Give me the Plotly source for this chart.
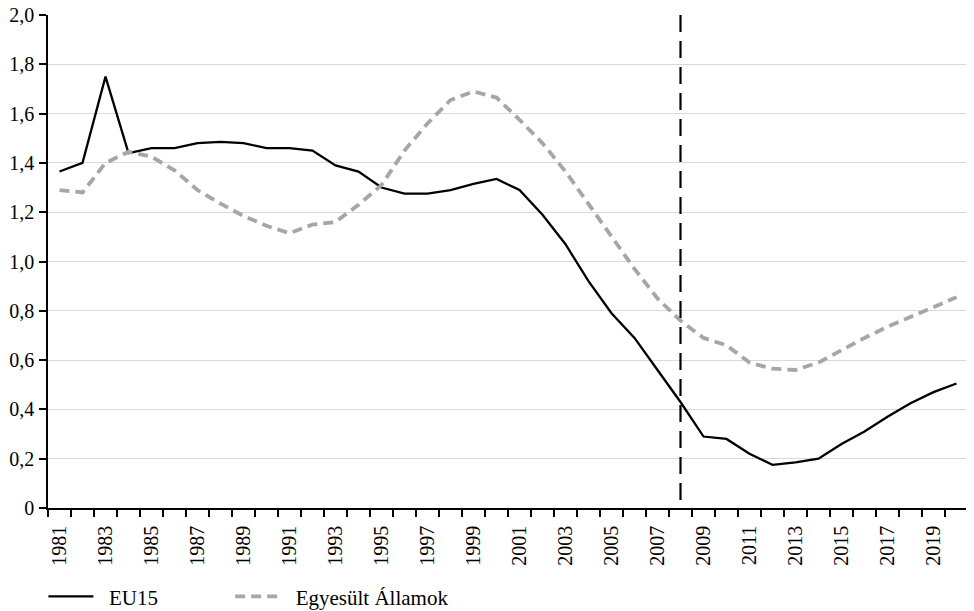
import plotly.graph_objects as go

years = list(range(1981, 2021))
eu15 = [1.365, 1.40, 1.75, 1.44, 1.46, 1.46, 1.48, 1.485, 1.48, 1.46,
        1.46, 1.45, 1.39, 1.365, 1.30, 1.275, 1.275, 1.29, 1.315, 1.335,
        1.29, 1.19, 1.07, 0.92, 0.79, 0.69, 0.56, 0.43, 0.29, 0.28,
        0.22, 0.175, 0.185, 0.20, 0.26, 0.31, 0.37, 0.425, 0.47, 0.505]
usa = [1.29, 1.28, 1.40, 1.445, 1.425, 1.37, 1.29, 1.235, 1.185, 1.145,
       1.115, 1.15, 1.16, 1.23, 1.31, 1.45, 1.56, 1.655, 1.69, 1.665,
       1.575, 1.48, 1.365, 1.235, 1.10, 0.97, 0.85, 0.76, 0.69, 0.66,
       0.59, 0.565, 0.56, 0.59, 0.64, 0.69, 0.735, 0.775, 0.815, 0.855]
y_ticks = [0, 0.2, 0.4, 0.6, 0.8, 1.0, 1.2, 1.4, 1.6, 1.8, 2.0]
y_ticktext = ["0", "0,2", "0,4", "0,6", "0,8", "1,0", "1,2", "1,4", "1,6", "1,8", "2,0"]
x_ticks = years[::2]
crisis_year = 2008

font = "Liberation Serif"
pad = "\u00a0\u00a0"

fig = go.Figure()
fig.add_trace(go.Scatter(x=years, y=eu15, mode="lines", name=pad + "EU15",
                         line=dict(color="black", width=2.3), legend="legend"))
fig.add_trace(go.Scatter(x=years, y=usa, mode="lines", name=pad + "Egyesült Államok",
                         line=dict(color="#a6a6a6", width=3.8, dash="10px,6px"),
                         legend="legend2"))

fig.add_shape(type="line", xref="x", yref="paper", x0=crisis_year, x1=crisis_year,
              y0=1, y1=0, line=dict(color="black", width=2.2, dash="17px,9px"))

legend_common = dict(orientation="h", y=-0.18, xanchor="left", yanchor="middle",
                     font=dict(family=font, size=21), itemwidth=45,
                     bgcolor="rgba(0,0,0,0)")

fig.update_layout(
    width=966, height=603,
    margin=dict(l=40, r=6, t=7, b=103, autoexpand=False),
    plot_bgcolor="white", paper_bgcolor="white",
    font=dict(family=font, size=20, color="black"),
    showlegend=True,
    legend=dict(x=-0.005, **legend_common),
    legend2=dict(x=0.198, **legend_common),
    xaxis=dict(range=[1980.5, 2020.5], tickmode="array", tickvals=x_ticks,
               ticktext=[str(y) for y in x_ticks], tickangle=-90, ticks="",
               showgrid=False, zeroline=False, showline=True, linecolor="black",
               linewidth=1.5, tickfont=dict(size=20), automargin=False,
               ticklabelstandoff=8, ticklabeloverflow="allow",
               minor=dict(tickmode="linear", tick0=1980.5, dtick=1, ticks="outside",
                          ticklen=7, tickcolor="black", tickwidth=1.5, showgrid=False)),
    yaxis=dict(range=[0, 2.0], tickmode="array", tickvals=y_ticks, ticktext=y_ticktext,
               ticks="outside", ticklen=7, tickcolor="black", tickwidth=1.5,
               showgrid=True, gridcolor="#d9d9d9", gridwidth=1, zeroline=False,
               showline=True, linecolor="black", linewidth=1.5, tickfont=dict(size=20),
               automargin=False, ticklabelstandoff=1, ticklabeloverflow="allow"),
)

fig.write_html("out.html")
